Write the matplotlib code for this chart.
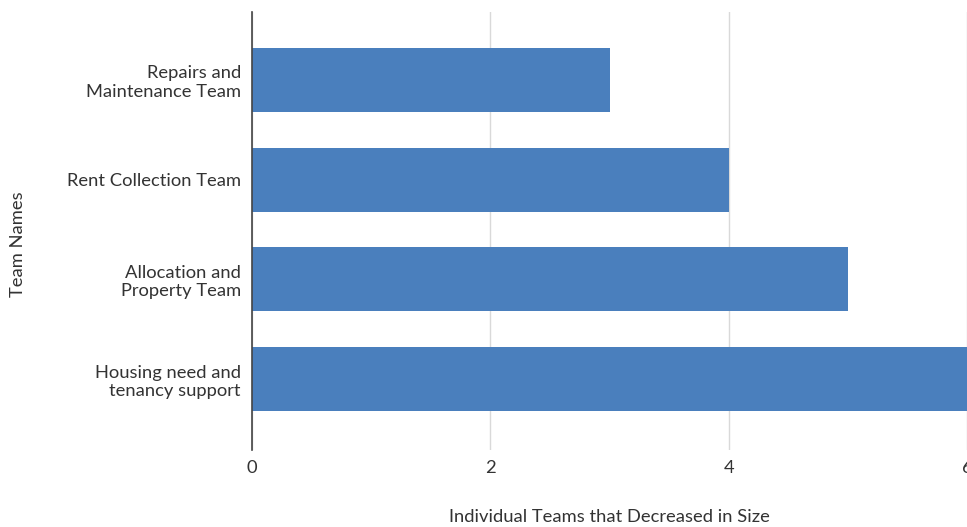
import matplotlib
matplotlib.use("Agg")
import matplotlib.pyplot as plt

categories = ["Housing need and\ntenancy support", "Allocation and\nProperty Team",
              "Rent Collection Team", "Repairs and\nMaintenance Team"]
values = [6, 5, 4, 3]
xticks = [0, 2, 4, 6]

plt.rcParams['font.family'] = ['Lato', 'DejaVu Sans']

fig = plt.figure(figsize=(9.67, 5.27), dpi=100)
ax = fig.add_axes([252/967, 1 - 450/527, 1 - 252/967, (450 - 12)/527])

ax.barh(range(len(categories)), values, height=0.64, color="#4a7fbd", zorder=3)
ax.set_xlim(0, 6)
ax.set_ylim(-0.71, 3.68)
ax.set_yticks(range(len(categories)))
ax.set_yticklabels(categories, fontsize=13.2, color="#333333", linespacing=1.2)
ax.set_xticks(xticks)
ax.set_xticklabels([str(t) for t in xticks], fontsize=13.2, color="#333333")
ax.tick_params(axis='both', length=0)
ax.tick_params(axis='x', pad=7)
ax.tick_params(axis='y', pad=8)
ax.grid(axis='x', color="#d9d9d9", linewidth=1, zorder=0)
for s in ['top', 'right', 'bottom']:
    ax.spines[s].set_visible(False)
ax.spines['left'].set_color("#444444")
ax.spines['left'].set_linewidth(1.2)
ax.spines['left'].set_zorder(4)

fig.text(609/967, 1 - 517/527, "Individual Teams that Decreased in Size",
         ha='center', va='center', fontsize=13.2, color="#333333")
fig.text(18/967, 1 - 244/527, "Team Names", rotation=90,
         ha='center', va='center', fontsize=13.2, color="#333333")

fig.savefig("out.png", dpi=100)
